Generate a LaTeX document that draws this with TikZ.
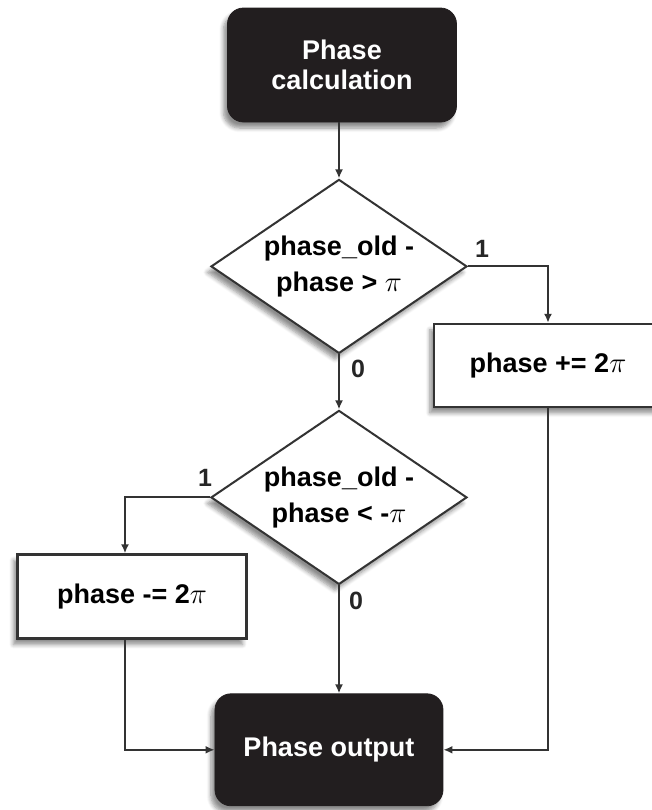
\documentclass[tikz,border=0pt]{standalone}
\usepackage{fontspec}
\setmainfont{Liberation Sans}
\usetikzlibrary{positioning,shapes.geometric,arrows.meta,shadows.blur}
\definecolor{boxblack}{HTML}{221E1F}
\definecolor{linegray}{HTML}{333333}
\newcommand\vgap{28pt}
\newcommand\lgap{54pt}
\newcommand\sidex{104.5pt}
\newcommand\sidey{49.5pt}
\newcommand\txt{\fontsize{13.5}{15}\selectfont\bfseries}

\tikzset{
  softshadow/.style={blur shadow={shadow xshift=-2pt, shadow yshift=-3pt,
      shadow blur steps=6, shadow opacity=45}},
  termbox/.style={rectangle, rounded corners=8pt, fill=boxblack, draw=boxblack,
      text=white, minimum width=114.5pt, minimum height=57pt, align=center,
      font=\txt, softshadow},
  decbox/.style={diamond, draw=linegray, line width=1pt, fill=white, inner sep=0pt,
      minimum width=128pt, minimum height=87pt, aspect=1.47, align=center,
      font=\fontsize{13.5}{18}\selectfont\bfseries, softshadow},
  opbox/.style={rectangle, draw=linegray, line width=1.1pt, fill=white,
      minimum width=114pt, minimum height=41.5pt, font=\txt, softshadow},
  flow/.style={draw=linegray, line width=1pt, -{Latex[length=4.5pt,width=4pt]}},
  branch/.style={font=\fontsize{12.5}{14}\selectfont\bfseries, text=black!85},
}

\begin{document}
\begin{tikzpicture}
  \useasboundingbox (-171pt,-372.5pt) rectangle (155pt,32.5pt);
  % main column
  \node[termbox] (calc) at (0,0) {Phase\\calculation};
  \node[decbox, below=\vgap of calc, xshift=-1.5pt] (d1) {phase\_old -\\phase > $\pi$};
  \node[decbox, below=27.5pt of d1] (d2) {phase\_old -\\phase < -$\pi$};
  \node[termbox, below=\lgap of d2, xshift=-5pt, minimum width=114pt, minimum height=56pt] (out) {Phase output};
  % correction boxes
  \node[opbox] (plus) at ([shift={(\sidex,-\sidey)}]d1.center) {phase += 2$\pi$};
  \node[opbox, minimum width=114.5pt, minimum height=42pt] (minus) at ([shift={(-103.5pt,-\sidey)}]d2.center) {phase -= 2$\pi$};
  \coordinate (mtop) at ([xshift=-3.5pt]minus.north);
  \coordinate (mbot) at ([xshift=-3.5pt]minus.south);

  \draw[flow] (d1.north |- calc.south) -- (d1.north);
  \draw[flow] (d1.south) -- (d2.north);
  \draw[flow] (d1.east) -| (plus.north);
  \draw[flow] (d2.west) -| (mtop);
  \draw[flow] (d2.south) -- (d2.south |- out.north);
  \draw[flow] (mbot) |- (out.west);
  \draw[flow] (plus.south) |- (out.east);

  % branch labels
  \node[branch] (y1) at ([shift={(7pt,9pt)}]d1.east) {1};
  \node[branch] (n1) at ([shift={(9.5pt,-7pt)}]d1.south) {0};
  \node[branch] (y2) at ([shift={(-2.5pt,10pt)}]d2.west) {1};
  \node[branch] (n2) at ([shift={(8.5pt,-7.5pt)}]d2.south) {0};
\end{tikzpicture}
\end{document}
